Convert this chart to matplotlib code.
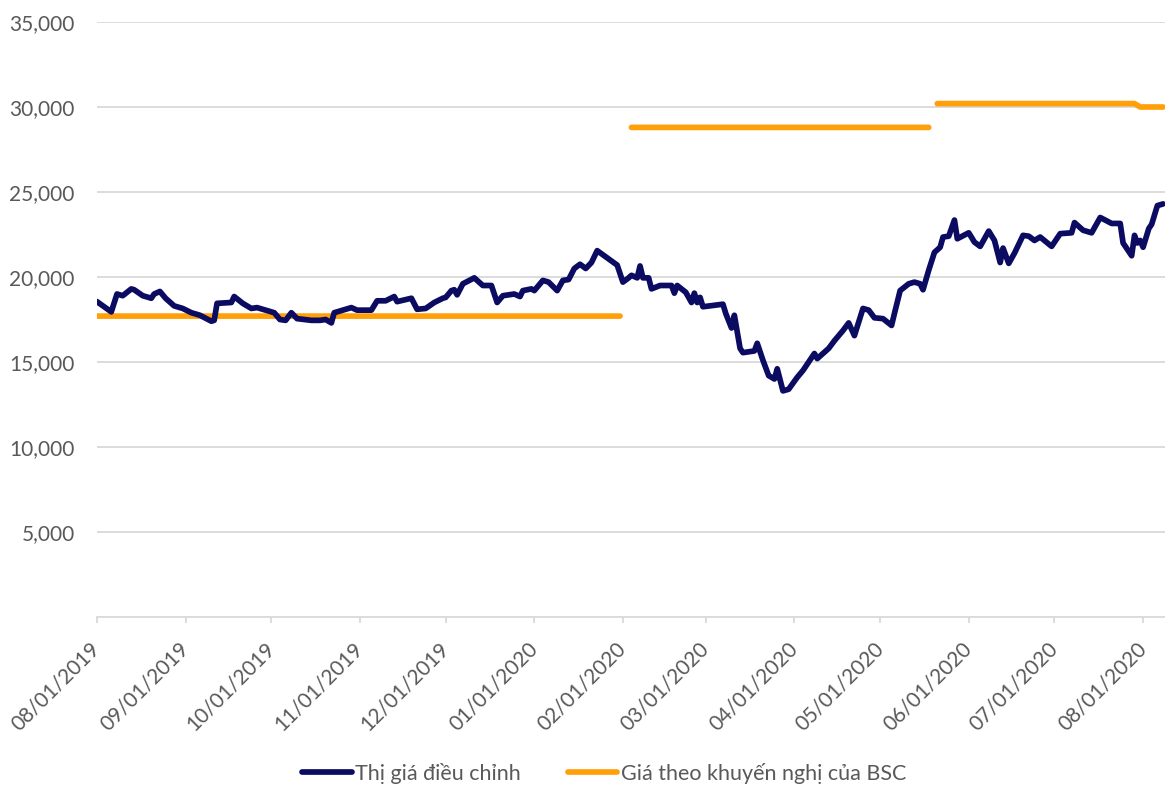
import numpy as np
import pandas as pd
import matplotlib
matplotlib.use("Agg")
import matplotlib.pyplot as plt
import matplotlib.dates as mdates
from matplotlib.ticker import FuncFormatter

plt.rcParams['font.family'] = ['Lato', 'DejaVu Sans']

# ---- data ----
price_dates = [
    "2019-08-01", "2019-08-06", "2019-08-08", "2019-08-10", "2019-08-13", "2019-08-14",
    "2019-08-17", "2019-08-20", "2019-08-21", "2019-08-23", "2019-08-25", "2019-08-28",
    "2019-08-31", "2019-09-03", "2019-09-06", "2019-09-10", "2019-09-11", "2019-09-12",
    "2019-09-17", "2019-09-18", "2019-09-21", "2019-09-24", "2019-09-26", "2019-09-28",
    "2019-10-02", "2019-10-04", "2019-10-06", "2019-10-08", "2019-10-10", "2019-10-15",
    "2019-10-18", "2019-10-20", "2019-10-22", "2019-10-23", "2019-10-26", "2019-10-29",
    "2019-10-31", "2019-11-05", "2019-11-07", "2019-11-10", "2019-11-13", "2019-11-14",
    "2019-11-19", "2019-11-21", "2019-11-24", "2019-11-27", "2019-11-30", "2019-12-01",
    "2019-12-03", "2019-12-04", "2019-12-05", "2019-12-07", "2019-12-11", "2019-12-14",
    "2019-12-17", "2019-12-19", "2019-12-21", "2019-12-25", "2019-12-27", "2019-12-28",
    "2019-12-31", "2020-01-01", "2020-01-04", "2020-01-06", "2020-01-09", "2020-01-11",
    "2020-01-13", "2020-01-15", "2020-01-17", "2020-01-19", "2020-01-21", "2020-01-23",
    "2020-01-30", "2020-02-01", "2020-02-03", "2020-02-04", "2020-02-06", "2020-02-07",
    "2020-02-08", "2020-02-10", "2020-02-11", "2020-02-14", "2020-02-18", "2020-02-19",
    "2020-02-20", "2020-02-23", "2020-02-25", "2020-02-26", "2020-02-27", "2020-02-28",
    "2020-02-29", "2020-03-07", "2020-03-08", "2020-03-10", "2020-03-11", "2020-03-13",
    "2020-03-14", "2020-03-18", "2020-03-19", "2020-03-21", "2020-03-23", "2020-03-25",
    "2020-03-26", "2020-03-28", "2020-03-30", "2020-04-02", "2020-04-04", "2020-04-08",
    "2020-04-09", "2020-04-13", "2020-04-15", "2020-04-18", "2020-04-20", "2020-04-22",
    "2020-04-25", "2020-04-27", "2020-04-29", "2020-05-02", "2020-05-05", "2020-05-06",
    "2020-05-08", "2020-05-11", "2020-05-13", "2020-05-15", "2020-05-16", "2020-05-18",
    "2020-05-20", "2020-05-22", "2020-05-23", "2020-05-25", "2020-05-27", "2020-05-28",
    "2020-06-01", "2020-06-03", "2020-06-05", "2020-06-08", "2020-06-10", "2020-06-12",
    "2020-06-13", "2020-06-15", "2020-06-17", "2020-06-20", "2020-06-22", "2020-06-24",
    "2020-06-26", "2020-06-30", "2020-07-03", "2020-07-07", "2020-07-08", "2020-07-11",
    "2020-07-14", "2020-07-17", "2020-07-21", "2020-07-24", "2020-07-25", "2020-07-28",
    "2020-07-29", "2020-07-30", "2020-07-31", "2020-08-01", "2020-08-03", "2020-08-04",
    "2020-08-06", "2020-08-08",
]
price_values = [
    18550, 17950, 19000, 18900, 19300, 19250,
    18900, 18750, 19000, 19150, 18750, 18300,
    18150, 17900, 17750, 17400, 17450, 18450,
    18500, 18850, 18450, 18150, 18200, 18100,
    17900, 17500, 17450, 17900, 17550, 17450,
    17450, 17500, 17300, 17900, 18050, 18200,
    18050, 18050, 18600, 18600, 18850, 18550,
    18750, 18100, 18150, 18500, 18750, 18800,
    19200, 19250, 18950, 19600, 19950, 19500,
    19500, 18500, 18900, 19000, 18850, 19200,
    19300, 19200, 19800, 19700, 19200, 19800,
    19850, 20500, 20750, 20500, 20850, 21550,
    20700, 19700, 19950, 20100, 19950, 20650,
    19950, 19950, 19300, 19500, 19500, 19050,
    19500, 19100, 18500, 19050, 18500, 18800,
    18250, 18400, 17850, 17000, 17750, 15800,
    15550, 15650, 16100, 15100, 14200, 14000,
    14600, 13300, 13400, 14100, 14500, 15500,
    15200, 15800, 16250, 16850, 17300, 16550,
    18150, 18050, 17600, 17550, 17150, 17850,
    19200, 19600, 19700, 19600, 19250, 20400,
    21450, 21750, 22350, 22400, 23350, 22250,
    22600, 22050, 21800, 22700, 22150, 20850,
    21700, 20800, 21400, 22450, 22400, 22150,
    22350, 21800, 22550, 22600, 23200, 22750,
    22600, 23500, 23150, 23150, 22000, 21250,
    22450, 22000, 22150, 21750, 22850, 23100,
    24200, 24300,
]

bsc_dates = ["2019-08-01", "2020-01-31", "2020-02-02",
             "2020-02-04", "2020-05-18", "2020-05-19",
             "2020-05-21", "2020-07-29", "2020-07-31", "2020-08-08"]
bsc_values = [17700, 17700, np.nan,
              28800, 28800, np.nan,
              30200, 30200, 30000, 30000]

series_labels = ["Thị giá điều chỉnh", "Giá theo khuyến nghị của BSC"]
month_ticks = ["2019-08-01", "2019-09-01", "2019-10-01", "2019-11-01", "2019-12-01",
               "2020-01-01", "2020-02-01", "2020-03-01", "2020-04-01", "2020-05-01",
               "2020-06-01", "2020-07-01", "2020-08-01"]
y_ticks = [5000, 10000, 15000, 20000, 25000, 30000, 35000]

# ---- styles ----
BLUE = "#0b0b62"
ORANGE = "#ffa00a"
TXT = "#595959"
GRID = "#d9d9d9"

W, H = 1165, 786
fig = plt.figure(figsize=(W / 100, H / 100), dpi=100)
ax = fig.add_axes([97 / W, 1 - 617 / H, 1 - 97 / W, (617 - 22) / H])

pd_price = pd.to_datetime(price_dates)
pd_bsc = pd.to_datetime(bsc_dates)

ax.plot(pd_price, price_values, color=BLUE, lw=4.1, solid_capstyle='round',
        solid_joinstyle='round', label=series_labels[0], zorder=3)
ax.plot(pd_bsc, bsc_values, color=ORANGE, lw=4.1, solid_capstyle='round',
        solid_joinstyle='round', label=series_labels[1], zorder=2)

ax.set_ylim(0, 35000)
ax.set_xlim(pd.Timestamp("2019-08-01"), pd.Timestamp("2020-08-08 16:00"))

ax.set_yticks(y_ticks)
ax.yaxis.set_major_formatter(FuncFormatter(lambda v, p: f"{int(v):,}"))
ax.tick_params(axis='y', length=0, pad=16, labelsize=15, labelcolor=TXT)
ax.grid(axis='y', color=GRID, lw=1.3)
ax.set_axisbelow(True)

ax.set_xticks(pd.to_datetime(month_ticks))
ax.xaxis.set_major_formatter(mdates.DateFormatter("%m/%d/%Y"))
ax.tick_params(axis='x', length=4.5, width=1.3, color=GRID, pad=16,
               labelsize=15, labelcolor=TXT)
for lab in ax.get_xticklabels():
    lab.set_rotation(45)
    lab.set_ha('right')
    lab.set_va('center')
    lab.set_rotation_mode('anchor')

for s in ['top', 'right', 'left']:
    ax.spines[s].set_visible(False)
ax.spines['bottom'].set_color(GRID)
ax.spines['bottom'].set_linewidth(1.3)

leg = fig.legend(loc='center', bbox_to_anchor=(604 / W, 1 - 773 / H), ncol=2,
                 frameon=False, fontsize=15.5, handlelength=2.3, handletextpad=0.15,
                 columnspacing=2.2, labelcolor=TXT)

fig.savefig("out.png", dpi=100)
